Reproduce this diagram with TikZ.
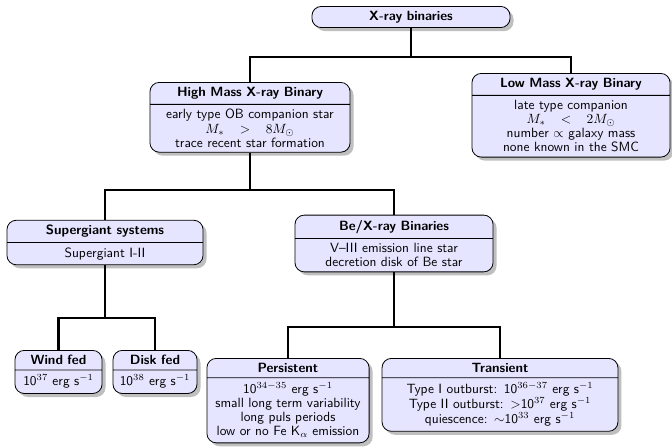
\documentclass[tikz,border=0pt]{standalone}
\usepackage{fontspec}
\usetikzlibrary{shapes.multipart,shadows}
\begin{document}
\begin{tikzpicture}[x=0.746pt,y=-0.746pt,
  box/.style={draw=black, line width=0.6pt, fill=blue!10, rounded corners=7pt,
    font=\sffamily\fontsize{10}{10.5}\selectfont, align=center,
    inner xsep=3pt, inner ysep=3.4pt, text width=#1,
    drop shadow={shadow xshift=2.6pt, shadow yshift=-2.6pt, fill=black, opacity=0.25}},
  split/.style={box=#1, rectangle split, rectangle split parts=2},
  edge/.style={line width=1.5pt}]
\useasboundingbox (0,0) rectangle (672,447);

\node[box=141.8pt] (top) at (411,17) {\textbf{X-ray binaries}};

\node[split=143.3pt, anchor=north] (hmxb) at (250,82)
  {\textbf{High Mass X-ray Binary}\nodepart{two}early type OB companion star\\ $M_*~>~8M_\odot$\\ trace recent star formation};

\node[split=141.8pt, anchor=north] (lmxb) at (571,73)
  {\textbf{Low Mass X-ray Binary}\nodepart{two}late type companion\\ $M_*~<~2M_\odot$\\ number $\propto$ galaxy mass\\ none known in the SMC};

\node[split=140.3pt] (sg) at (105,242.5)
  {\textbf{Supergiant systems}\nodepart{two}Supergiant I-II};

\node[split=141.8pt] (be) at (394,243.5)
  {\textbf{Be/X-ray Binaries}\nodepart{two}V--III emission line star\\ decretion disk of Be star};

\node[split=59pt, anchor=north] (wind) at (58.5,350)
  {\textbf{Wind fed}\nodepart{two}10$^{37}$ erg s$^{-1}$};

\node[split=56.7pt, anchor=north] (disk) at (155,350)
  {\textbf{Disk fed}\nodepart{two}10$^{38}$ erg s$^{-1}$};

\node[split=115pt, anchor=north] (pers) at (288,358)
  {\textbf{Persistent}\nodepart{two}10$^{34-35}$ erg s$^{-1}$\\ small long term variability\\ long puls periods\\ low or no Fe K$_\alpha$ emission};

\node[split=170pt, anchor=north, font=\sffamily\fontsize{10}{11.2}\selectfont] (trans) at (500,358)
  {\textbf{Transient}\nodepart{two}Type I outburst: 10$^{36-37}$ erg s$^{-1}$\\ Type II outburst: $>$10$^{37}$ erg s$^{-1}$\\ quiescence: $\sim$10$^{33}$ erg s$^{-1}$};

\coordinate (f1) at (410,57);
\coordinate (f2) at (250,190);
\coordinate (f3) at (107,318);
\coordinate (f4) at (394,327);

\draw[edge] (top.south) -- (top.south |- f1);
\draw[edge] (hmxb.north) |- (f1) -| (lmxb.north);
\draw[edge] (hmxb.south) -- (hmxb.south |- f2);
\draw[edge] (sg.north) |- (f2) -| (be.north);
\draw[edge] (sg.south) -- (sg.south |- f3);
\draw[edge] (wind.north) |- (f3) -| (disk.north);
\draw[edge] (be.south) -- (be.south |- f4);
\draw[edge] (pers.north) |- (f4) -| (trans.north);
\end{tikzpicture}
\end{document}
